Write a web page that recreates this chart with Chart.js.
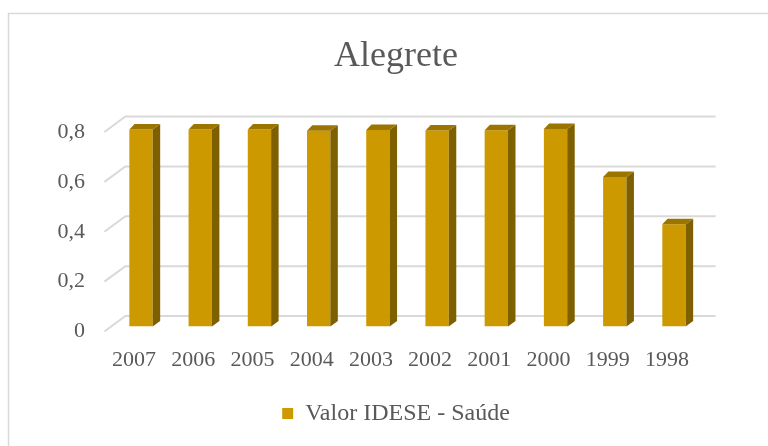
<!DOCTYPE html>
<html>
<head>
<meta charset="utf-8">
<script src="https://cdn.jsdelivr.net/npm/chart.js@4.4.1/dist/chart.umd.min.js"></script>
<style>
  html, body { margin: 0; padding: 0; background: #ffffff; }
  #wrap { position: relative; width: 768px; height: 446px; }
</style>
</head>
<body>
<div id="wrap"><canvas id="c" width="768" height="446"></canvas></div>
<script>
const chartTitle = 'Alegrete';
const seriesName = 'Valor IDESE - Saúde';
const categories = ['2007', '2006', '2005', '2004', '2003', '2002', '2001', '2000', '1999', '1998'];
const values = [0.79, 0.79, 0.79, 0.785, 0.788, 0.786, 0.787, 0.792, 0.60, 0.41];
const yTicks = [0, 0.2, 0.4, 0.6, 0.8];

const FRONT = '#CC9900';
const SIDE = '#7F6000';
const TOP = '#9C7400';
const GRID = '#D9D9D9';
const TEXT = '#595959';
const SERIF = '"Liberation Serif", "Times New Roman", serif';

// 3D geometry (pixel offsets)
const BAR_DX = 7, BAR_DY = -5;     // bar front plane shift
const DEPTH_X = 7.5, DEPTH_Y = 5.5; // bar depth
const WALL_DX = 21, WALL_DY = -15.5; // back wall offset

const frame3d = {
  id: 'frame3d',
  beforeDraw(chart) {
    const ctx = chart.ctx;
    ctx.save();
    ctx.strokeStyle = GRID;
    ctx.lineWidth = 1.5;
    ctx.beginPath();
    ctx.moveTo(8.5, 446);
    ctx.lineTo(8.5, 13.5);
    ctx.lineTo(768, 13.5);
    ctx.stroke();
    ctx.restore();
  },
  beforeDatasetsDraw(chart) {
    const ctx = chart.ctx;
    const ys = chart.scales.y;
    const ca = chart.chartArea;
    ctx.save();
    ctx.strokeStyle = GRID;
    ctx.lineWidth = 2;
    yTicks.forEach(v => {
      const py = ys.getPixelForValue(v);
      ctx.beginPath();
      ctx.moveTo(ca.left, py);
      ctx.lineTo(ca.left + WALL_DX, py + WALL_DY);
      ctx.lineTo(ca.right + WALL_DX - 2, py + WALL_DY);
      ctx.stroke();
    });
    ctx.restore();
    ctx.save();
    ctx.translate(BAR_DX, BAR_DY);
  },
  afterDatasetsDraw(chart) {
    const ctx = chart.ctx;
    const meta = chart.getDatasetMeta(0);
    meta.data.forEach(bar => {
      const p = bar.getProps(['x', 'y', 'base', 'width'], true);
      const l = p.x - p.width / 2, r = p.x + p.width / 2;
      // side face
      ctx.fillStyle = SIDE;
      ctx.beginPath();
      ctx.moveTo(r, p.y);
      ctx.lineTo(r + DEPTH_X, p.y - DEPTH_Y);
      ctx.lineTo(r + DEPTH_X, p.base - DEPTH_Y);
      ctx.lineTo(r, p.base);
      ctx.closePath();
      ctx.fill();
      // top face
      ctx.fillStyle = TOP;
      ctx.beginPath();
      ctx.moveTo(l, p.y);
      ctx.lineTo(l + DEPTH_X * 0.7, p.y - DEPTH_Y);
      ctx.lineTo(r + DEPTH_X, p.y - DEPTH_Y);
      ctx.lineTo(r, p.y);
      ctx.closePath();
      ctx.fill();
    });
    ctx.restore();
  }
};

new Chart(document.getElementById('c'), {
  type: 'bar',
  data: {
    labels: categories,
    datasets: [{
      label: seriesName,
      data: values,
      backgroundColor: FRONT,
      borderWidth: 0,
      categoryPercentage: 1,
      barPercentage: 0.394
    }]
  },
  options: {
    responsive: false,
    animation: false,
    devicePixelRatio: 1,
    layout: { padding: { top: 0, left: 24, right: 0, bottom: 10.5 } },
    plugins: {
      title: {
        display: true,
        text: chartTitle,
        color: TEXT,
        font: { family: SERIF, size: 36, weight: 'normal', lineHeight: 1.2 },
        padding: { top: 35, bottom: 53.8 }
      },
      legend: {
        position: 'bottom',
        labels: {
          color: TEXT,
          font: { family: SERIF, size: 24 },
          boxWidth: 11,
          boxHeight: 11,
          padding: 9.5
        }
      },
      tooltip: { enabled: false }
    },
    scales: {
      x: {
        grid: { display: false, drawTicks: false },
        border: { display: false },
        ticks: {
          color: TEXT,
          font: { family: SERIF, size: 22 },
          padding: 16,
          maxRotation: 0,
          autoSkip: false
        },
        afterFit(scale) { scale.height = 60.5; }
      },
      y: {
        min: 0,
        max: 0.8,
        grid: { display: false, drawTicks: false },
        border: { display: false },
        ticks: {
          stepSize: 0.2,
          color: TEXT,
          font: { family: SERIF, size: 22 },
          padding: 19.4,
          callback: v => String(Math.round(v * 10) / 10).replace('.', ',')
        },
        afterFit(scale) { scale.width = 80.4; }
      },
      yRight: {
        position: 'right',
        display: true,
        min: 0,
        max: 0.8,
        grid: { display: false, drawTicks: false },
        border: { display: false },
        ticks: { display: false },
        afterFit(scale) { scale.width = 71.4; }
      }
    }
  },
  plugins: [frame3d]
});
</script>
</body>
</html>
